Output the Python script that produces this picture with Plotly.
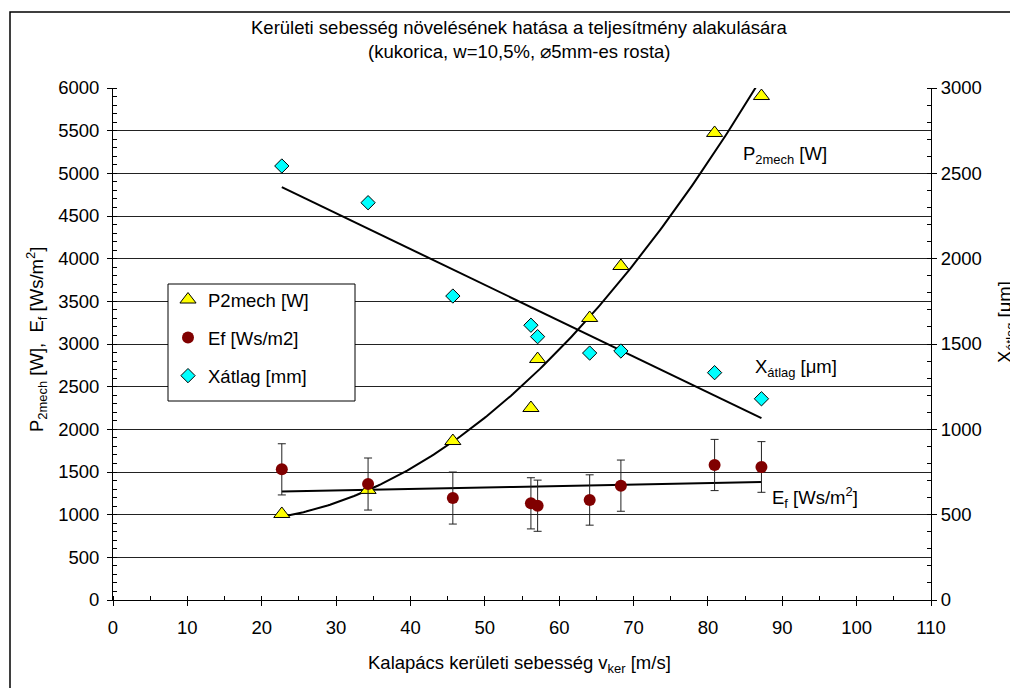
import numpy as np
import plotly.graph_objects as go

# Hammer peripheral speed [m/s]
v_ker = [22.7, 34.3, 45.7, 56.2, 57.1, 64.1, 68.3, 80.9, 87.2]
# Mechanical power P2mech [W]
p2mech = [1008, 1290, 1863, 2250, 2824, 3305, 3914, 5473, 5906]
# Specific energy Ef [Ws/m2] and its spread
ef = [1531, 1359, 1195, 1133, 1105, 1172, 1340, 1582, 1559]
ef_err = [300, 305, 305, 300, 300, 295, 300, 300, 297]
# Mean particle size X_atlag [um] (right axis)
x_atlag = [2543, 2328, 1781, 1610, 1543, 1447, 1459, 1332, 1179]

x_ticks = [0, 10, 20, 30, 40, 50, 60, 70, 80, 90, 100, 110]
y_ticks = [0, 500, 1000, 1500, 2000, 2500, 3000, 3500, 4000, 4500, 5000, 5500, 6000]
y2_ticks = [0, 500, 1000, 1500, 2000, 2500, 3000]

FONT = "Liberation Sans, Arial, sans-serif"
FS = 18.5

# plot-area geometry in pixels
W, H = 1010, 688
L, R, T, B = 113, 931, 88, 600


def px(xp):
    return (xp - L) / (R - L)


def py(yp):
    return (B - yp) / (B - T)


xs = np.array(v_ker)
xfit = np.linspace(xs.min(), xs.max(), 200)
p_fit = np.polyval(np.polyfit(xs, p2mech, 2), xfit)
ef_fit = np.polyval(np.polyfit(xs, ef, 1), xfit)
xa_fit = np.polyval(np.polyfit(xs, x_atlag, 1), xfit)

fig = go.Figure()

# trend lines
fig.add_trace(go.Scatter(x=xfit, y=p_fit, mode="lines", line=dict(color="black", width=2),
                         showlegend=False, hoverinfo="skip"))
fig.add_trace(go.Scatter(x=xfit, y=ef_fit, mode="lines", line=dict(color="black", width=2),
                         showlegend=False, hoverinfo="skip"))
fig.add_trace(go.Scatter(x=xfit, y=xa_fit, mode="lines", line=dict(color="black", width=2),
                         showlegend=False, hoverinfo="skip", yaxis="y2"))

# measured points
fig.add_trace(go.Scatter(
    x=v_ker, y=p2mech, mode="markers", name="P2mech [W]", legendgroup="a",
    marker=dict(symbol="triangle-up", size=14, color="#FFFF00", line=dict(color="black", width=1)),
    cliponaxis=False))
fig.add_trace(go.Scatter(
    x=v_ker, y=ef, mode="markers", name="Ef [Ws/m2]", legendgroup="b",
    marker=dict(symbol="circle", size=12, color="#800000", line=dict(color="#800000", width=0)),
    error_y=dict(type="data", array=ef_err, visible=True, color="#222222", thickness=1, width=4)))
fig.add_trace(go.Scatter(
    x=v_ker, y=x_atlag, mode="markers", name="Xátlag [mm]", legendgroup="c", yaxis="y2",
    marker=dict(symbol="diamond", size=11, color="#00FFFF", line=dict(color="black", width=1))))

fig.update_layout(
    width=W, height=H,
    margin=dict(l=L, r=W - R, t=T, b=H - B),
    paper_bgcolor="white", plot_bgcolor="white",
    font=dict(family=FONT, size=FS, color="black"),
    showlegend=True,
    legend=dict(x=px(168), y=py(281), xanchor="left", yanchor="top",
                bgcolor="rgba(0,0,0,0)", borderwidth=0,
                font=dict(family=FONT, size=FS), tracegroupgap=11,
                traceorder="grouped"),
    xaxis=dict(range=[0, 110], tickvals=x_ticks, ticktext=[str(t) for t in x_ticks],
               showgrid=False, zeroline=False, showline=True, linecolor="black", linewidth=1,
               ticks="outside", ticklen=5, tickcolor="black", ticklabelstandoff=6,
               minor=dict(dtick=5, ticks="inside", ticklen=4, tickcolor="black", showgrid=False),
               tickfont=dict(size=FS)),
    yaxis=dict(range=[0, 6000], tickvals=y_ticks, ticktext=[str(t) for t in y_ticks],
               showgrid=True, gridcolor="#222222", gridwidth=1, zeroline=False,
               showline=True, linecolor="black", linewidth=1,
               ticks="outside", ticklen=5, tickcolor="black", ticklabelstandoff=4,
               minor=dict(dtick=100, ticks="inside", ticklen=4, tickcolor="black", showgrid=False),
               tickfont=dict(size=FS)),
    yaxis2=dict(range=[0, 3000], tickvals=y2_ticks, ticktext=[str(t) for t in y2_ticks],
                overlaying="y", side="right", showgrid=False, zeroline=False,
                showline=True, linecolor="black", linewidth=1,
                ticks="outside", ticklen=5, tickcolor="black",
                minor=dict(dtick=100, ticks="inside", ticklen=4, tickcolor="black", showgrid=False),
                tickfont=dict(size=FS)),
)

# outer chart frame
fig.add_shape(type="rect", xref="paper", yref="paper",
              x0=px(10), x1=px(1040), y0=py(720), y1=py(12),
              line=dict(color="black", width=1.5), fillcolor="rgba(0,0,0,0)", layer="below")
# legend box (drawn over the gridlines)
fig.add_shape(type="rect", xref="paper", yref="paper",
              x0=px(168), x1=px(355), y0=py(401), y1=py(284),
              line=dict(color="black", width=1), fillcolor="white", layer="above")

ann = [
    dict(text="Kerületi sebesség növelésének hatása a teljesítmény alakulására",
         x=px(519), y=py(27)),
    dict(text="(kukorica, w=10,5%, ⌀5mm-es rosta)", x=px(519), y=py(51)),
    dict(text="Kalapács kerületi sebesség v<sub>ker</sub> [m/s]", x=px(519), y=py(664)),
]
for a in ann:
    fig.add_annotation(text=a["text"], x=a["x"], y=a["y"], xref="paper", yref="paper",
                       showarrow=False, xanchor="center", yanchor="middle",
                       font=dict(family=FONT, size=FS, color="black"))

fig.add_annotation(text="P<sub>2mech</sub> [W],  E<sub>f</sub> [Ws/m<sup>2</sup>]",
                   x=px(36), y=py(340), xref="paper", yref="paper", showarrow=False,
                   textangle=-90, xanchor="center", yanchor="middle",
                   font=dict(family=FONT, size=FS, color="black"))
fig.add_annotation(text="X<sub>átlag</sub> [μm]",
                   x=px(1006), y=py(322), xref="paper", yref="paper", showarrow=False,
                   textangle=-90, xanchor="center", yanchor="middle",
                   font=dict(family=FONT, size=FS, color="black"))

# series labels inside the plot
labels = [
    ("P<sub>2mech</sub> [W]", 741, 155),
    ("X<sub>átlag</sub> [μm]", 753, 368),
    ("E<sub>f</sub> [Ws/m<sup>2</sup>]", 770, 497),
]
for txt, lx, ly in labels:
    fig.add_annotation(text=txt, x=px(lx), y=py(ly), xref="paper", yref="paper",
                       showarrow=False, xanchor="left", yanchor="middle",
                       font=dict(family=FONT, size=FS, color="black"))

fig.write_html("out.html")
